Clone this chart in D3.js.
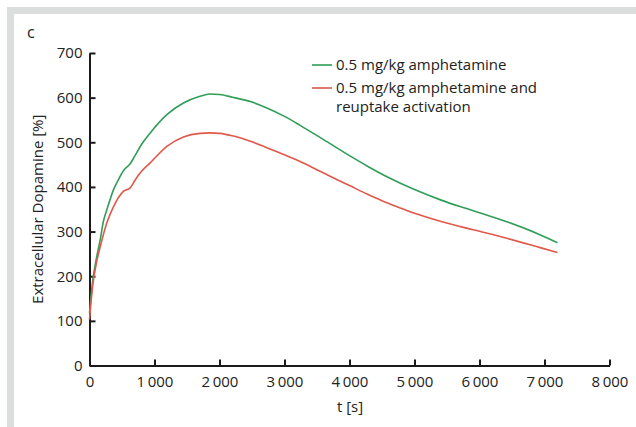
<!DOCTYPE html>
<html>
<head>
<meta charset="utf-8">
<script src="https://cdn.jsdelivr.net/npm/d3@7"></script>
<style>
  html, body { margin: 0; padding: 0; background: #fff; }
  svg { display: block; font-family: "Open Sans", "Noto Sans", sans-serif; }
</style>
</head>
<body>
<div id="chart"></div>
<script>
// time points [s] and extracellular dopamine [%]
const greenT = [0, 50, 100, 165, 212, 267, 370, 443, 530, 626, 700, 800, 934, 1190, 1445, 1700, 1850, 2000, 2200, 2500, 2730, 3000, 3240, 3600, 4000, 4270, 4600, 5000, 5400, 5700, 6000, 6420, 6930, 7200];
const greenV = [118, 190, 235, 282, 322, 349, 394, 416, 438, 452, 470, 495, 521, 562, 588, 603, 608, 607, 601, 590, 577, 558, 538, 506, 470, 447, 421, 394, 371, 356, 342, 322, 293, 275];

const redT = [0, 50, 100, 165, 267, 370, 520, 626, 700, 800, 934, 1190, 1445, 1700, 1860, 2000, 2214, 2500, 2728, 3000, 3240, 3548, 3755, 4000, 4270, 4500, 4780, 5000, 5450, 5903, 6420, 6934, 7200];
const redV = [103, 180, 225, 266, 320, 356, 390, 398, 415, 435, 454, 491, 512, 520, 521, 520, 514, 501, 488, 472, 457, 435, 420, 403, 384, 369, 353, 341, 321, 304, 285, 264, 253];

const xTicks = [0, 1000, 2000, 3000, 4000, 5000, 6000, 7000, 8000];
const yTicks = [0, 100, 200, 300, 400, 500, 600, 700];

const seriesNames = ['0.5 mg/kg amphetamine', '0.5 mg/kg amphetamine and|reuptake activation'];
const seriesColors = ['#2f9e58', '#e0584a'];

const width = 636;
const height = 427;

const svg = d3.select('#chart')
  .append('svg')
  .attr('width', width)
  .attr('height', height);

// grey frame (top and left band)
svg.append('rect').attr('x', 7).attr('y', 7).attr('width', width - 7).attr('height', 7).attr('fill', '#dcdedd');
svg.append('rect').attr('x', 7).attr('y', 7).attr('width', 7).attr('height', height - 7).attr('fill', '#dcdedd');

const x = d3.scaleLinear().domain([0, 8000]).range([89.5, 609.5]);
const y = d3.scaleLinear().domain([0, 700]).range([365.5, 53]);

const fmt = (v) => v >= 1000 ? `${Math.floor(v / 1000)}\u2009${String(v % 1000).padStart(3, '0')}` : String(v);

// x axis
const xAxis = svg.append('g')
  .attr('transform', `translate(0,${y(0)})`)
  .call(d3.axisBottom(x).tickValues(xTicks).tickSizeInner(-6).tickSizeOuter(0).tickPadding(11).tickFormat(fmt));

// y axis
const yAxis = svg.append('g')
  .attr('transform', `translate(${x(0)},0)`)
  .call(d3.axisLeft(y).tickValues(yTicks).tickSizeInner(-6).tickSizeOuter(0).tickPadding(7).tickFormat(fmt));

[xAxis, yAxis].forEach((g) => {
  g.select('.domain').attr('stroke', '#1a1a1a').attr('stroke-width', 2);
  g.selectAll('.tick line').attr('stroke', '#1a1a1a').attr('stroke-width', 2);
  g.selectAll('.tick text').attr('fill', '#222').attr('font-size', 15).attr('font-family', '"Open Sans", "Noto Sans", sans-serif');
});
xAxis.selectAll('.tick text').attr('dy', '0.71em');

// lines
const line = d3.line()
  .x((d) => x(d[0]))
  .y((d) => y(d[1]))
  .curve(d3.curveMonotoneX);

const series = [
  d3.zip(greenT, greenV),
  d3.zip(redT, redV),
];

svg.selectAll('.series')
  .data(series)
  .enter()
  .append('path')
  .attr('class', 'series')
  .attr('d', line)
  .attr('fill', 'none')
  .attr('stroke', (d, i) => seriesColors[i])
  .attr('stroke-width', 1.6)
  .attr('stroke-linejoin', 'round');

// legend
const legend = svg.append('g').attr('transform', 'translate(312,65)');
seriesNames.forEach((name, i) => {
  const row = legend.append('g').attr('transform', `translate(0,${i * 23})`);
  row.append('line')
    .attr('x1', 0).attr('x2', 20).attr('y1', 0).attr('y2', 0)
    .attr('stroke', seriesColors[i]).attr('stroke-width', 1.6);
  const text = row.append('text')
    .attr('x', 24).attr('y', 5)
    .attr('font-size', 15)
    .attr('fill', '#222');
  name.split('|').forEach((part, j) => {
    text.append('tspan').attr('x', 24).attr('dy', j === 0 ? 0 : 19).text(part);
  });
});

// panel letter
svg.append('text')
  .attr('x', 27).attr('y', 38)
  .attr('font-size', 16)
  .attr('fill', '#222')
  .text('c');

// axis titles
svg.append('text')
  .attr('transform', `translate(43,${y(350)}) rotate(-90)`)
  .attr('text-anchor', 'middle')
  .attr('font-size', 15)
  .attr('fill', '#222')
  .text('Extracellular Dopamine [%]');

svg.append('text')
  .attr('x', 350).attr('y', 412)
  .attr('text-anchor', 'middle')
  .attr('font-size', 15)
  .attr('fill', '#222')
  .text('t [s]');
</script>
</body>
</html>
